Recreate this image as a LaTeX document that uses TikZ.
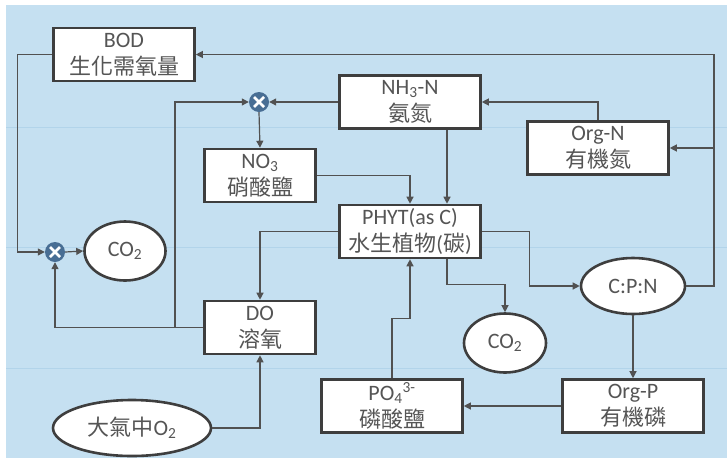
\documentclass[tikz,border=0pt]{standalone}
\usepackage{fontspec}
\setmainfont{Carlito}
\newfontfamily\cjk{Noto Sans CJK TC}
\usetikzlibrary{positioning,arrows.meta,shapes.geometric,calc}
\definecolor{bgblue}{RGB}{197,224,241}
\definecolor{gridblue}{RGB}{178,212,234}
\definecolor{boxline}{RGB}{62,62,62}
\definecolor{txtgray}{RGB}{85,85,85}
\definecolor{sumblue}{RGB}{72,110,148}

\begin{document}
\begin{tikzpicture}[x=1pt, y=-1pt, >={Triangle[length=7pt,width=7pt]},
    font=\fontsize{22}{27}\selectfont,
    box/.style={draw=boxline, line width=2.6pt, fill=white, text=txtgray, align=center,
        minimum width=141pt, minimum height=53pt, inner sep=0pt},
    narrowbox/.style={box, minimum width=111pt},
    oval/.style={ellipse, draw=boxline, line width=2.6pt, fill=white, text=txtgray, inner sep=0pt},
    sum/.style={circle, fill=sumblue, minimum size=20pt, inner sep=0pt,
        path picture={\draw[white, line width=2.5pt]
            ([shift={(-5pt,-5pt)}]path picture bounding box.center) -- ([shift={(5pt,5pt)}]path picture bounding box.center)
            ([shift={(-5pt,5pt)}]path picture bounding box.center) -- ([shift={(5pt,-5pt)}]path picture bounding box.center);}},
    conn/.style={->, draw=txtgray!95!black, line width=1.2pt}]

    % Background and guide lines
    \useasboundingbox (0,0) rectangle (727,469);
    \fill[bgblue] (6,5) rectangle (727,458);
    \foreach \gy in {127,247,368}
        \draw[gridblue, line width=0.8pt] (6,\gy) -- (727,\gy);

    % Boxes
    \node[box] (bod) at (124,54.5) {BOD\\{\cjk 生化需氧量}};
    \node[box] (nh) at (410,102) {NH\textsubscript{3}-N\\{\cjk 氨氮}};
    \node[box] (orgn) at (598,148) {Org-N\\{\cjk 有機氮}};
    \node[narrowbox] (no) at (260,175.5) {NO\textsubscript{3}\\{\cjk 硝酸鹽}};
    \node[box] (phyt) at (410,231.5) {PHYT(as C)\\{\cjk 水生植物}({\cjk 碳})};
    \node[narrowbox] (do) at (260,327.5) {DO\\{\cjk 溶氧}};
    \node[box] (po) at (392,406) {PO\textsubscript{4}\textsuperscript{3-}\\{\cjk 磷酸鹽}};
    \node[box] (orgp) at (633,406) {Org-P\\{\cjk 有機磷}};

    % Ovals
    \node[oval, minimum width=81pt, minimum height=59pt] (co2a) at (125,251) {CO\textsubscript{2}};
    \node[oval, minimum width=82pt, minimum height=59pt] (co2b) at (505,343) {CO\textsubscript{2}};
    \node[oval, minimum width=104pt, minimum height=56pt] (cpn) at (633,286) {C:P:N};
    \node[oval, minimum width=158pt, minimum height=56pt] (air) at (132,428) {{\cjk 大氣中}O\textsubscript{2}};

    % Summing junctions
    \node[sum] (sumt) at (259,102) {};
    \node[sum] (sumb) at (55,252) {};

    % Helper points
    \coordinate (split) at (175,327.5);
    \coordinate (rgt) at (714,54.5);

    % Nitrogen loop
    \draw[conn] (nh.west) -- (sumt.east);
    \draw[conn] (do.west) -- (split) |- (sumt.west);
    \draw[conn] (sumt.south) -- (no.north);
    \draw[conn] (no.east) -| (phyt.north);
    \draw[conn] ([xshift=37pt]nh.south) -- ([xshift=37pt]phyt.north);
    \draw[conn] (orgn.north) |- (nh.east);

    % Plant outputs
    \draw[conn] (phyt.west) -| (do.north);
    \draw[conn] (phyt.east) -- ++(48,0) |- (cpn.west);
    \draw[conn] ([xshift=37pt]phyt.south) -- ++(0,25) -| (co2b.north);

    % Phosphorus loop
    \draw[conn] (cpn.south) -- (orgp.north);
    \draw[conn] (orgp.west) -- (po.east);
    \draw[conn] (po.north) -- ++(0,-60) -| (phyt.south);

    % Return to BOD and Org-N
    \draw[conn] (cpn.east) -| (rgt) -- (bod.east);
    \draw[conn] (orgn.east -| rgt) -- (orgn.east);

    % Oxygen
    \draw[conn] (bod.west) -- ++(-35,0) |- (sumb.west);
    \draw[conn] (sumb.east) -- (co2a.west);
    \draw[conn] (do.west) -| (sumb.south);
    \draw[conn] (air.east) -| (do.south);

\end{tikzpicture}
\end{document}
